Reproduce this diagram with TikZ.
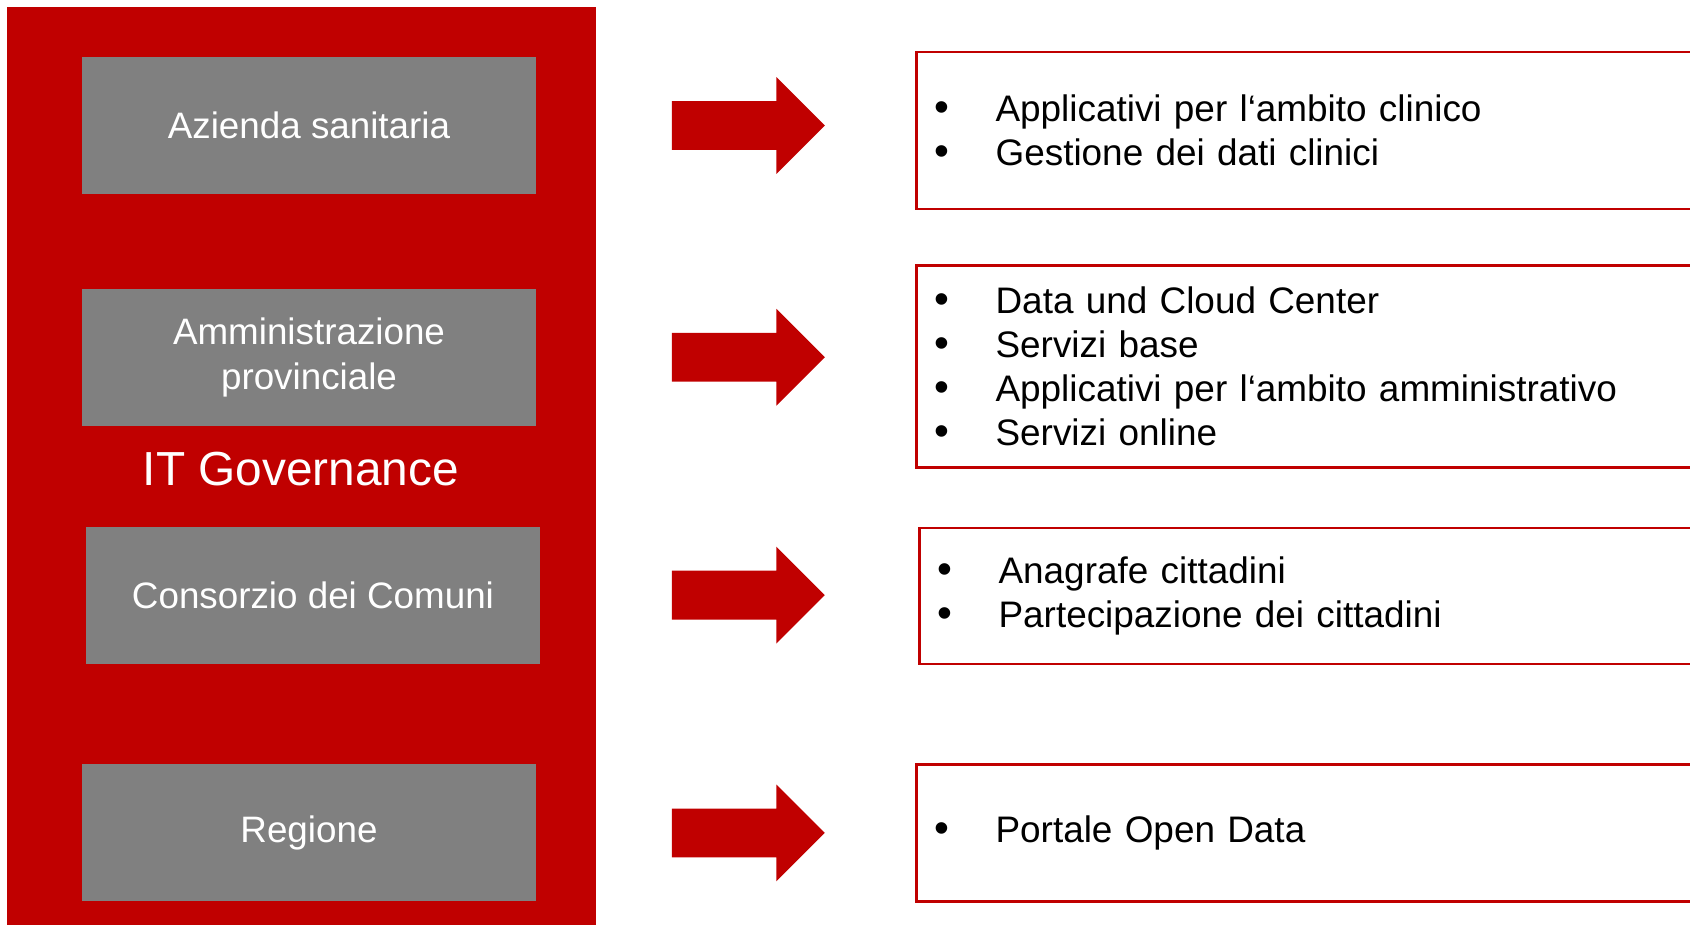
\documentclass[tikz,border=0pt]{standalone}
\usepackage{fontspec}
\setmainfont{Liberation Sans}
\usetikzlibrary{positioning,shapes.arrows}
\definecolor{itred}{HTML}{C00000}
\definecolor{itgray}{HTML}{808080}
\tikzstyle{panel} = [rectangle, anchor=north west,
minimum width=294.75pt,
minimum height=462pt,
draw=none,
fill=itred]
\tikzstyle{entity} = [rectangle,
minimum width=227pt,
minimum height=68.5pt,
align=center,
text=white,
fill=itgray,
font=\fontsize{18.4}{22.5}\selectfont]
\tikzstyle{title} = [text=white, inner sep=0pt, font=\fontsize{23.9}{28}\selectfont]
\tikzstyle{bigarrow} = [single arrow, fill=itred, draw=none, inner xsep=0pt, inner ysep=12pt,
minimum width=48pt, minimum height=76.5pt,
single arrow head extend=12pt, single arrow tip angle=90]
\tikzstyle{services} = [rectangle, draw=itred, line width=1.2pt, fill=white,
text width=385pt, inner xsep=7.5pt, align=left,
font=\fontsize{18.45}{22.1}\selectfont]
\newcommand{\itm}{\makebox[32pt][l]{\hspace{1.5pt}\scalebox{1.15}{\textbullet}}}

\begin{document}
\begin{tikzpicture}[x=0.5pt, y=-0.5pt]
\useasboundingbox (0,0) rectangle (1690,925);

% Red governance panel
\node[panel] (Governance) at (6.5,6.5) {};

% Entities
\node[entity] (Azienda) at (309,125.5) {Azienda sanitaria};
\node[entity, below=47pt of Azienda] (Amministrazione) {Amministrazione\\provinciale};
\node[entity, below=50pt of Amministrazione, xshift=2pt] (Consorzio) {Consorzio dei Comuni};
\node[entity, below=50pt of Consorzio, xshift=-2pt] (Regione) {Regione};
\node[title] (IT_Governance) at (301,469) {IT Governance};

% Arrows
\node[bigarrow, right=67.5pt of Azienda] (Arrow_Azienda) {};
\node[bigarrow, right=67.5pt of Amministrazione] (Arrow_Amministrazione) {};
\node[bigarrow, right=65.5pt of Consorzio] (Arrow_Consorzio) {};
\node[bigarrow, right=67.5pt of Regione] (Arrow_Regione) {};

% Services
\node[services, right=45pt of Arrow_Azienda, yshift=-2.5pt, minimum height=78.5pt] (Servizi_Azienda)
{\itm Applicativi per l‘ambito clinico\\ \itm Gestione dei dati clinici};
\node[services, right=45pt of Arrow_Amministrazione, yshift=-4.5pt, minimum height=101pt] (Servizi_Amministrazione)
{\itm Data und Cloud Center\\ \itm Servizi base\\ \itm Applicativi per l‘ambito amministrativo\\ \itm Servizi online};
\node[services, right=46.5pt of Arrow_Consorzio, yshift=-0.5pt, minimum height=68pt] (Servizi_Consorzio)
{\itm Anagrafe cittadini\\ \itm Partecipazione dei cittadini};
\node[services, right=45pt of Arrow_Regione, minimum height=68.5pt] (Servizi_Regione)
{\itm Portale Open Data};

\end{tikzpicture}
\end{document}
